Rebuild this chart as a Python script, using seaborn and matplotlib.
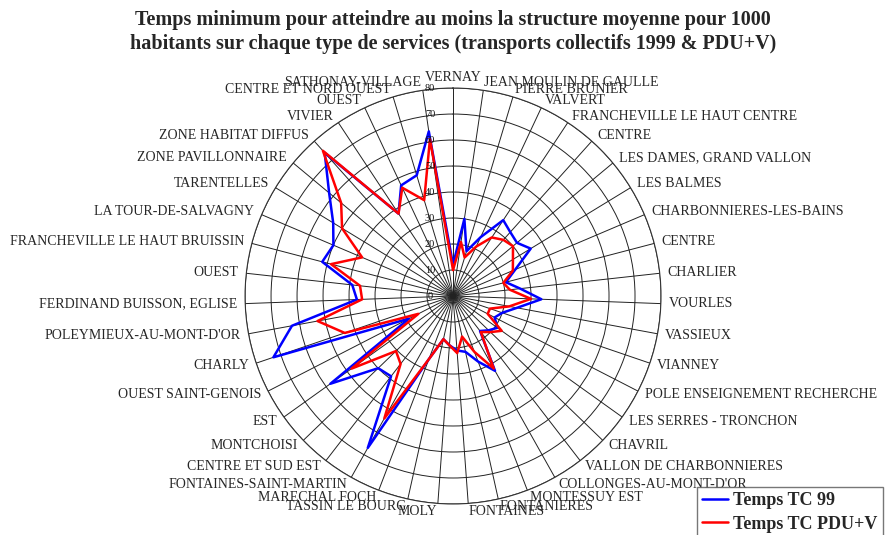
import numpy as np
import pandas as pd
import matplotlib
matplotlib.use("Agg")
import matplotlib.pyplot as plt
import seaborn as sns

sns.set_theme(style="white")
plt.rcParams['font.family'] = ['Liberation Serif', 'DejaVu Serif']

# Data
quartiers = ["VERNAY", "JEAN MOULIN DE GAULLE", "PIERRE BRUNIER", "VALVERT",
             "FRANCHEVILLE LE HAUT CENTRE", "CENTRE", "LES DAMES, GRAND VALLON",
             "LES BALMES", "CHARBONNIERES-LES-BAINS", "CENTRE", "CHARLIER", "VOURLES",
             "VASSIEUX", "VIANNEY", "POLE ENSEIGNEMENT RECHERCHE", "LES SERRES - TRONCHON",
             "CHAVRIL", "VALLON DE CHARBONNIERES", "COLLONGES-AU-MONT-D'OR", "MONTESSUY EST",
             "FONTANIERES", "FONTAINES", "MOLY", "TASSIN LE BOURG", "MARECHAL FOCH",
             "FONTAINES-SAINT-MARTIN", "CENTRE ET SUD EST", "MONTCHOISI", "EST",
             "OUEST SAINT-GENOIS", "CHARLY", "POLEYMIEUX-AU-MONT-D'OR",
             "FERDINAND BUISSON, EGLISE", "OUEST", "FRANCHEVILLE LE HAUT BRUISSIN",
             "LA TOUR-DE-SALVAGNY", "TARENTELLES", "ZONE PAVILLONNAIRE",
             "ZONE HABITAT DIFFUS", "VIVIER", "OUEST", "CENTRE ET NORD OUEST",
             "SATHONAY-VILLAGE"]

temps_tc99 = [12, 30, 18, 25, 35, 33, 32, 35, 26, 21, 26, 34, 25, 20, 18, 21, 19, 17,
              33, 27, 22, 21, 19, 17, 26, 67, 39, 40, 58, 19, 73, 63, 37, 39, 52, 50,
              54, 62, 74, 38, 47, 48.5, 64]
temps_pduv = [10, 21, 15.5, 21, 27, 29, 30, 27, 25, 20, 22, 30, 22, 15, 15, 23, 20, 17.5,
              32, 23, 16, 22, 19, 17, 26, 54, 33, 30.5, 48, 15, 44, 53, 35, 36, 48.5, 38,
              50, 56, 75, 38, 46, 38.5, 61]

series_names = ["Temps TC 99", "Temps TC PDU+V"]
r_ticks = [0, 10, 20, 30, 40, 50, 60, 70, 80]

n = len(quartiers)
theta = np.arange(n) * 2 * np.pi / n

# long table, each polygon closed on its first point
rows = []
for name, vals in zip(series_names, [temps_tc99, temps_pduv]):
    for t, v in zip(list(theta) + [2 * np.pi], list(vals) + [vals[0]]):
        rows.append({"theta": t, "temps": v, "serie": name})
df = pd.DataFrame(rows)

fig = plt.figure(figsize=(8.85, 5.35), dpi=100)
ax = fig.add_axes([0.2769, 0.0579, 0.470, 0.7776], projection="polar")
ax.set_theta_zero_location("N")
ax.set_theta_direction(-1)

sns.lineplot(data=df, x="theta", y="temps", hue="serie", palette=["#0000ff", "#ff0000"],
             sort=False, estimator=None, errorbar=None, linewidth=1.8, ax=ax)

ax.set_ylim(0, 80)
ax.set_yticks(r_ticks[1:])
ax.set_yticklabels([])
ax.set_xticks(theta)
ax.set_xticklabels([])
ax.set_xlabel("")
ax.set_ylabel("")
ax.grid(True, color="#222222", linewidth=0.7)
ax.spines["polar"].set_color("#333333")
ax.spines["polar"].set_linewidth(0.8)

# value labels, left of the vertical axis
for v in r_ticks:
    ax.annotate(str(v), xy=(0, v), xytext=(-23, 0), textcoords="offset pixels",
                ha="center", va="center", fontsize=7.5, color="#111111")

# category labels
for k, (t, lab) in enumerate(zip(theta, quartiers)):
    deg = np.degrees(t)
    if k == 0:
        ax.text(t, 81.5, lab, ha="center", va="bottom", fontsize=10, clip_on=False)
    elif deg < 180:
        ax.text(t, 83, lab, ha="left", va="center", fontsize=10, clip_on=False)
    else:
        ax.text(t, 83, lab, ha="right", va="center", fontsize=10, clip_on=False)

fig.text(0.512, 0.982,
         "Temps minimum pour atteindre au moins la structure moyenne pour 1000\n"
         "habitants sur chaque type de services (transports collectifs 1999 & PDU+V)",
         ha="center", va="top", fontsize=14.5, fontweight="bold", linespacing=1.3)

handles, labels = ax.get_legend_handles_labels()
leg = fig.legend(handles, labels, loc="upper left", bbox_to_anchor=(697 / 885, 1 - 487 / 535),
                 frameon=True, fancybox=False, borderaxespad=0,
                 prop={"size": 13, "weight": "bold"}, handlelength=1.4, handletextpad=0.3,
                 borderpad=0.3, labelspacing=0.35)
leg.get_frame().set_edgecolor("#555555")
leg.get_frame().set_linewidth(1.0)
if ax.get_legend() is not None:
    ax.get_legend().remove()

fig.savefig("out.png", dpi=100)
